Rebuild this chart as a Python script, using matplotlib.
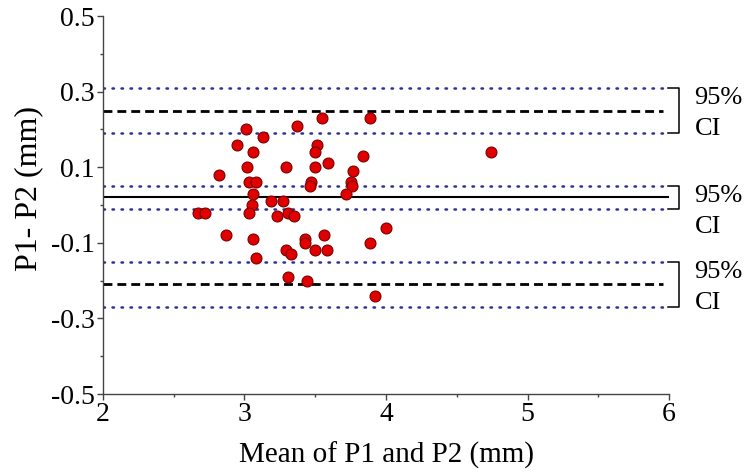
import matplotlib
matplotlib.use("Agg")
import matplotlib.pyplot as plt
from matplotlib.ticker import FixedLocator

plt.rcParams['font.family'] = ['Liberation Serif', 'DejaVu Serif']

# Bland-Altman data
mean_p = [3.55, 3.89, 3.37, 3.01, 3.13, 2.95, 3.51, 3.06, 3.50, 3.84,
          3.59, 3.02, 3.29, 3.50, 3.77, 2.82, 3.03, 3.08, 3.47, 3.46,
          3.75, 3.76, 3.72, 3.06, 3.19, 3.27, 3.05, 3.03, 2.67, 2.72,
          3.23, 3.31, 3.35, 4.00, 2.87, 3.06, 3.43, 3.56, 3.43, 3.89,
          3.29, 3.33, 3.50, 3.58, 3.08, 3.31, 3.44, 3.92, 4.74]
diff_p = [0.23, 0.23, 0.21, 0.20, 0.18, 0.16, 0.16, 0.14, 0.14, 0.13,
          0.11, 0.10, 0.10, 0.10, 0.09, 0.08, 0.06, 0.06, 0.06, 0.05,
          0.06, 0.05, 0.03, 0.03, 0.01, 0.01, 0.00, -0.02, -0.02, -0.02,
          -0.03, -0.02, -0.03, -0.06, -0.08, -0.09, -0.09, -0.08, -0.10, -0.10,
          -0.12, -0.13, -0.12, -0.12, -0.14, -0.19, -0.20, -0.24, 0.14]

# limits of agreement and bias with their 95% CI (low, centre, high)
upper_loa = (0.19, 0.25, 0.31)
bias = (-0.01, 0.02, 0.05)
lower_loa = (-0.27, -0.21, -0.15)

fig = plt.figure(figsize=(7.51, 4.73), dpi=100)
ax = fig.add_axes([0.137, 0.167, 0.754, 0.799])

x0, x1 = 2, 5.96
dot_kw = dict(color='#2e3192', lw=1.8, linestyle=(0, (0.6, 3.0)), dash_capstyle='round')
for lo, mid, hi in (upper_loa, lower_loa):
    ax.plot([x0, x1], [mid, mid], color='black', lw=2, linestyle=(0, (3.2, 1.8)))
for lo, mid, hi in (upper_loa, bias, lower_loa):
    ax.plot([x0, x1], [lo, lo], **dot_kw)
    ax.plot([x0, x1], [hi, hi], **dot_kw)
ax.plot([x0, x1 + 0.03], [bias[1], bias[1]], color='black', lw=1.5)

ax.scatter(mean_p, diff_p, s=62, color='#e00000', edgecolors='#7a0000',
           linewidths=0.8, zorder=5)

# brackets with "95% CI" labels
for lo, mid, hi in (upper_loa, bias, lower_loa):
    ax.plot([5.99, 6.07, 6.07, 5.99], [hi, hi, lo, lo], color='black', lw=1.1,
            clip_on=False)
    ax.text(6.18, hi - 0.027, '95%', fontsize=19, va='center', ha='left')
    ax.text(6.18, hi - 0.108, 'CI', fontsize=19, va='center', ha='left')

ax.set_xlim(2, 6)
ax.set_ylim(-0.5, 0.5)
ax.xaxis.set_major_locator(FixedLocator([2, 3, 4, 5, 6]))
ax.xaxis.set_minor_locator(FixedLocator([2.5, 3.5, 4.5, 5.5]))
ax.yaxis.set_major_locator(FixedLocator([-0.5, -0.3, -0.1, 0.1, 0.3, 0.5]))
ax.yaxis.set_minor_locator(FixedLocator([-0.4, -0.2, 0.0, 0.2, 0.4]))
ax.set_yticklabels(['-0.5', '-0.3', '-0.1', '0.1', '0.3', '0.5'])
ax.tick_params(which='major', length=4, width=1, color='#444444', labelsize=20, pad=2)
ax.tick_params(which='minor', length=2.5, width=1, color='#444444')

for side in ('top', 'right'):
    ax.spines[side].set_visible(False)
for side in ('left', 'bottom'):
    ax.spines[side].set_color('#444444')
    ax.spines[side].set_linewidth(1)

ax.set_xlabel('Mean of P1 and P2 (mm)', fontsize=21)
ax.set_ylabel('P1- P2 (mm)', fontsize=23)
ax.xaxis.set_label_coords(0.5, -0.125)
ax.yaxis.set_label_coords(-0.105, 0.545)

fig.savefig('out.png', dpi=100)
